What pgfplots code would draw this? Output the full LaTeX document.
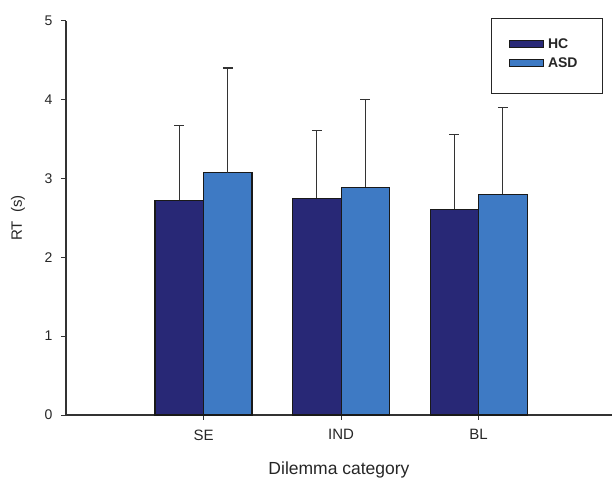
\documentclass[border=0pt]{standalone}
\usepackage{fontspec}
\setmainfont{Liberation Sans}
\usepackage{pgfplots}
\pgfplotsset{compat=1.18}
\definecolor{hc}{RGB}{40,40,118}
\definecolor{asd}{RGB}{62,122,196}
\pgfplotsset{myerr/.style={
  error bars/y dir=plus, error bars/y explicit, error bars/error mark=-,
  error bars/error bar style={line width=1.3pt, black!80},
  error bars/error mark options={line width=1.3pt, black!80, mark size=5pt, rotate=90}}}
\begin{document}
\begin{tikzpicture}
\useasboundingbox (-66pt,-63pt) rectangle (548pt,415pt);
\begin{axis}[
  scale only axis, width=546pt, height=394.3pt, clip=false,
  xmin=-1, xmax=2.97, ymin=0, ymax=5,
  axis x line=bottom, axis y line=left,
  axis line style={-, line width=1.3pt, color=black!80},
  xtick={0,1,2}, xticklabels={SE,IND,BL},
  ytick={0,1,2,3,4,5},
  tick style={black!80, line width=0.9pt},
  tick align=outside, major tick length=5pt,
  /pgf/number format/assume math mode=true,
  tick label style={color=black!85},
  xticklabel style={font=\fontsize{15}{15}\selectfont, yshift=-6pt},
  yticklabel style={font=\fontsize{14}{14}\selectfont, xshift=-5pt},
  xlabel={Dilemma category}, ylabel={RT\ \ (s)},
  xlabel style={font=\fontsize{17.5}{18}\selectfont, color=black!85, at={(axis description cs:0.5,0)}, anchor=base, yshift=-60pt},
  ylabel style={font=\fontsize{15}{15}\selectfont, color=black!85, at={(axis description cs:0,0.5)}, anchor=center, yshift=48pt},
  ybar, bar width=48.5pt,
  legend style={at={(0.78,1.004)}, anchor=north west, draw=none, fill=none,
    inner xsep=17pt, inner ysep=17pt, row sep=4pt,
    font=\bfseries\fontsize{14}{14}\selectfont, text=black!85},
  legend cell align=left,
  legend image code/.code={\draw[#1, line width=0.8pt] (0pt,-3.5pt) rectangle (34pt,3.5pt); \path (36pt,0pt);},
]
\draw[black!85, line width=1pt, fill=white] (rel axis cs:0.7802,1.0043) rectangle (rel axis cs:0.9817,0.8166);
\addplot[fill=hc, draw=black!90, line width=1.1pt, bar shift=-24.25pt, myerr]
  table[x=x, y=y, y error=e] {
x y e
0 2.72 0.95
1 2.75 0.86
2 2.61 0.95
};
\addlegendentry{HC}
\addplot[fill=asd, draw=black!90, line width=1.1pt, bar shift=24.25pt, myerr]
  table[x=x, y=y, y error=e] {
x y e
0 3.07 1.33
1 2.89 1.11
2 2.80 1.10
};
\addlegendentry{ASD}
\end{axis}
\end{tikzpicture}
\end{document}
